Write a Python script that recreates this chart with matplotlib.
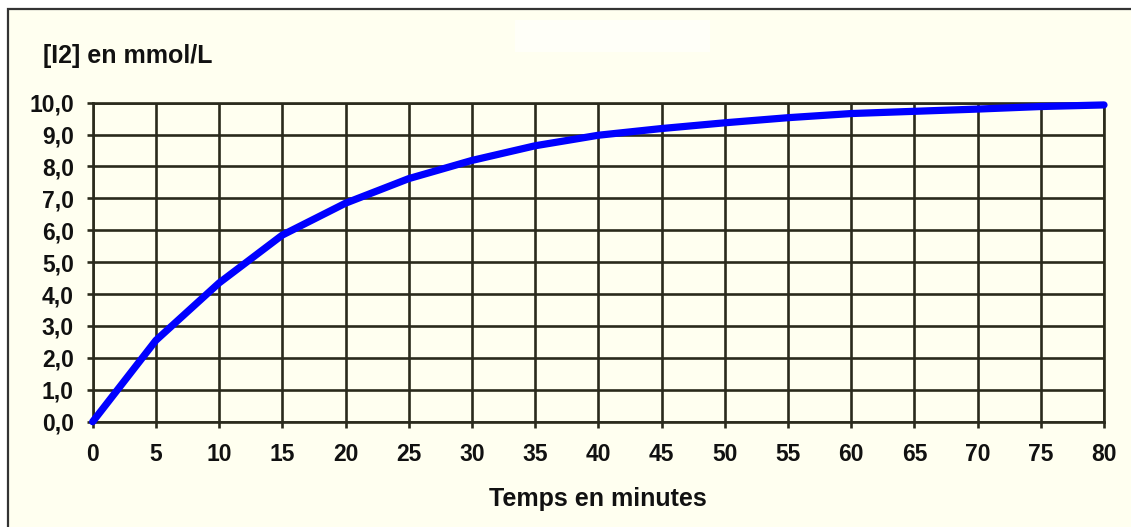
import matplotlib.pyplot as plt
from matplotlib.patches import Rectangle

# concentration of I2 vs time
temps = [0, 5, 10, 15, 20, 25, 30, 35, 40, 45, 50, 55, 60, 65, 70, 75, 80]
conc_i2 = [0.0, 2.55, 4.35, 5.85, 6.85, 7.62, 8.19, 8.65, 8.98, 9.19,
           9.37, 9.53, 9.66, 9.73, 9.80, 9.88, 9.93]
x_ticks = list(range(0, 81, 5))
y_ticks = [float(v) for v in range(0, 11)]
y_ticklabels = [('%.1f' % v).replace('.', ',') for v in y_ticks]

W, H = 1131, 527
cream = '#fffff0'
gridc = '#2a2a1c'

plt.rcParams['font.family'] = ['Liberation Sans', 'DejaVu Sans']
plt.rcParams['font.weight'] = 'bold'

fig = plt.figure(figsize=(W / 100, H / 100), dpi=100)
fig.patch.set_facecolor('white')

# cream panel with dark border (left and top edges visible)
fig.patches.append(Rectangle((8 / W, -0.05), 1.2, 1 - 9 / H + 0.05,
                             transform=fig.transFigure, facecolor=cream,
                             edgecolor='#333333', linewidth=1.6, zorder=-2))
# faint white smudge where a title was erased
fig.patches.append(Rectangle((515 / W, 1 - 52 / H), 195 / W, 32 / H,
                             transform=fig.transFigure, facecolor='white',
                             edgecolor='none', alpha=0.6, zorder=-1))

ax = fig.add_axes([92.7 / W, 1 - 421.7 / H, (1104 - 92.7) / W, (421.7 - 102.7) / H])
ax.set_zorder(2)
ax.set_facecolor(cream)
ax.plot(temps, conc_i2, color='#0000ff', linewidth=5.2, solid_capstyle='round',
        solid_joinstyle='round', zorder=3, clip_on=False)

ax.set_xlim(0, 80)
ax.set_ylim(0, 10)
ax.set_xticks(x_ticks)
ax.set_yticks(y_ticks)
ax.set_yticklabels(y_ticklabels)
ax.set_axisbelow(True)
ax.grid(True, color=gridc, linewidth=1.9)
ax.tick_params(axis='both', direction='out', length=4.5, width=1.9, color=gridc,
               labelsize=16.5, labelcolor='#111111')
ax.tick_params(axis='y', pad=9)
ax.tick_params(axis='x', pad=11)
for s in ax.spines.values():
    s.set_color(gridc)
    s.set_linewidth(1.9)

for lab in ax.get_xticklabels() + ax.get_yticklabels():
    lab.set_fontweight('bold')

fig.text(43 / W, 1 - 63 / H, '[I2] en mmol/L', fontsize=18, fontweight='bold',
         ha='left', va='baseline', color='#111111')
fig.text(598 / W, 1 - 499 / H, 'Temps en minutes', fontsize=18, fontweight='bold',
         ha='center', va='center', color='#111111')

fig.savefig('out.png', dpi=100)
